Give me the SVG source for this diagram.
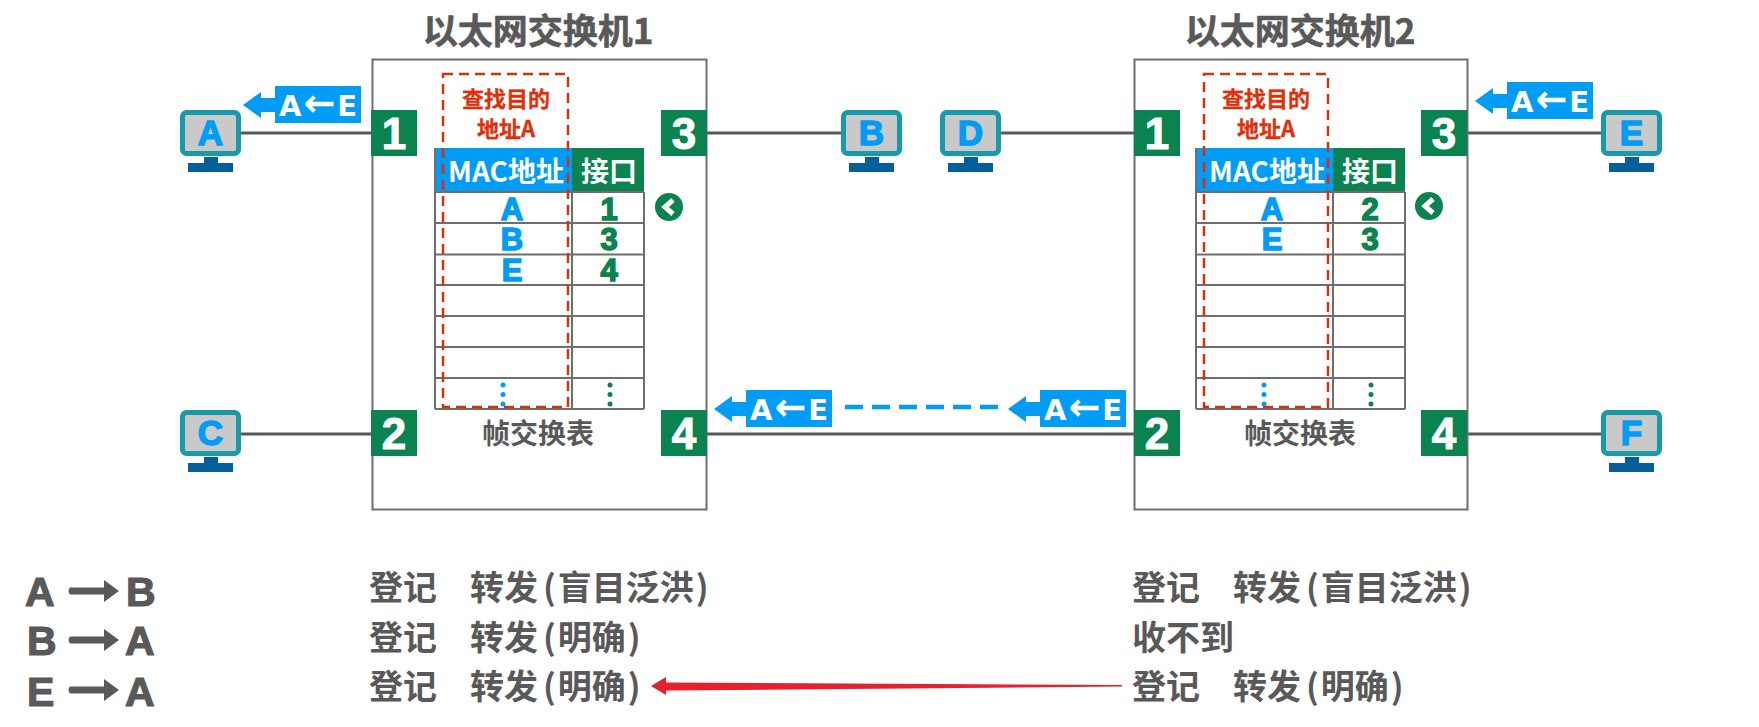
<svg xmlns="http://www.w3.org/2000/svg" width="1759" height="727" viewBox="0 0 1759 727">
<style>
text{font-family:"Noto Sans CJK SC","Liberation Sans",sans-serif;font-weight:700;text-anchor:middle}
.box{fill:#fff;stroke:#6e6e6e;stroke-width:2}
.wire{stroke:#595959;stroke-width:3;fill:none}
.port{fill:#0a8350}
.pt{fill:#fff;stroke:#fff;stroke-width:1;font:700 44px "Liberation Sans",sans-serif}
.title{fill:#595959;stroke:#595959;stroke-width:.6;font-size:35px}
.cap{fill:#595959;font-size:28px}
.red{fill:#e0300a;stroke:#e0300a;stroke-width:.3;font-size:22px}
.hb{fill:#009cf6}
.hg{fill:#0a8350}
.th{fill:#fff;font-size:28px}
.grid{stroke:#6e6e6e;stroke-width:2;fill:none}
.dash{fill:none;stroke:#d8300f;stroke-width:2.5;stroke-dasharray:10 6}
.cb{fill:#009cf6;stroke:#009cf6;stroke-width:1.500;font:700 31px "Liberation Sans",sans-serif}
.cg{fill:#0a8350;stroke:#0a8350;stroke-width:1.500;font:700 31px "Liberation Sans",sans-serif}
.mon{fill:#c9c9c9;stroke:#1a9aa8;stroke-width:5}
.stand{fill:#045f9a}
.pc{fill:#009cf6;stroke:#009cf6;stroke-width:1.500;font:700 35px "Liberation Sans",sans-serif}
.fr{fill:#fff;font:700 29px "DejaVu Sans",sans-serif}
.fa{font-size:38px}
.log{fill:#595959;font-size:34px;text-anchor:start}
.flow{fill:#595959;stroke:#595959;stroke-width:1.200;font:700 41px "Liberation Sans",sans-serif;text-anchor:start}
.farrow{fill:#595959}
</style>
<defs>
<g id="pc"><rect class="mon" x="2.500" y="2.500" width="56" height="41" rx="4"/><rect class="stand" x="24" y="47" width="14" height="6"/><rect class="stand" x="8" y="53" width="45" height="9"/></g>
<g id="frame"><path class="hb" d="M0 20 L18 7 V13 H32 V1 H118 V38 H32 V27 H18 V33Z"/></g>
<g id="chev"><circle class="hg" r="14"/><path d="M4 -7 L-4 0 L4 7" fill="none" stroke="#fff" stroke-width="5"/></g>
<g id="flowarrow"><path class="farrow" d="M0 -3.500 H34 V-11 L49 0 L34 11 V3.500 H0 Q-3 0 0 -3.500Z"/></g>
<g id="table"><rect x="0" y="0" width="137" height="44" class="hb"/><rect x="137" y="0" width="72" height="44" class="hg"/><path class="grid" d="M0 44H209M0 75H209M0 106.500H209M0 137H209M0 168H209M0 199H209M0 230H209M0 261H209M0 0V261M209 44V261M137 44V261"/></g>
<g id="dots-b"><circle class="hb" cx="0" cy="0" r="2.500"/><circle class="hb" cx="0" cy="9.500" r="2.500"/><circle class="hb" cx="0" cy="19" r="2.500"/></g>
<g id="dots-g"><circle class="hg" cx="0" cy="0" r="2.500"/><circle class="hg" cx="0" cy="9.500" r="2.500"/><circle class="hg" cx="0" cy="19" r="2.500"/></g>
</defs>
<rect width="1759" height="727" fill="#fff"/>
<g id="connectors">
<path class="wire" d="M241 133H372M707 133H841M1001 133H1134M1467 133H1601M241 434H372M707 434H1134M1467 434H1601"/>
<path d="M845 407H998" fill="none" stroke="#009cf6" stroke-width="4.500" stroke-dasharray="18 9"/>
<path d="M651 686 L666 677 V682.500 L1122 685 V686.500 L666 690.500 V695Z" fill="#e8202e"/>
</g>
<g id="switch1">
<rect class="box" x="372.500" y="59.500" width="334" height="450"/>
<text class="title" x="538" y="44">以太网交换机1</text>
<use href="#table" x="435" y="148"/>
<text class="th" x="506" y="182">MAC地址</text><text class="th" x="609" y="182">接口</text>
<text class="cb" x="512" y="220">A</text><text class="cb" x="512" y="250">B</text><text class="cb" x="512" y="281">E</text>
<text class="cg" x="609" y="220">1</text><text class="cg" x="609" y="250">3</text><text class="cg" x="609" y="281">4</text>
<use href="#dots-b" x="503" y="385"/><use href="#dots-g" x="610" y="385"/>
<rect class="dash" x="443" y="74" width="125" height="333"/>
<text class="red" x="506" y="107">查找目的</text><text class="red" x="506" y="137">地址A</text>
<use href="#chev" x="669" y="207"/>
<text class="cap" x="538" y="444">帧交换表</text>
</g>
<g id="switch2">
<rect class="box" x="1134.500" y="59.500" width="333" height="450"/>
<text class="title" x="1300" y="44">以太网交换机2</text>
<use href="#table" x="1196" y="148"/>
<text class="th" x="1267" y="182">MAC地址</text><text class="th" x="1370" y="182">接口</text>
<text class="cb" x="1272" y="220">A</text><text class="cb" x="1272" y="250">E</text>
<text class="cg" x="1370" y="220">2</text><text class="cg" x="1370" y="250">3</text>
<use href="#dots-b" x="1264" y="385"/><use href="#dots-g" x="1371" y="385"/>
<rect class="dash" x="1204" y="74" width="124" height="333"/>
<text class="red" x="1266" y="107">查找目的</text><text class="red" x="1266" y="137">地址A</text>
<use href="#chev" x="1429" y="206"/>
<text class="cap" x="1300" y="444">帧交换表</text>
</g>
<g id="ports">
<g id="s1p1"><rect class="port" x="371" y="110" width="46" height="46"/><text class="pt" x="394" y="149">1</text></g>
<g id="s1p3"><rect class="port" x="661" y="110" width="46" height="46"/><text class="pt" x="684" y="149">3</text></g>
<g id="s1p2"><rect class="port" x="371" y="410" width="46" height="46"/><text class="pt" x="394" y="449">2</text></g>
<g id="s1p4"><rect class="port" x="661" y="410" width="46" height="46"/><text class="pt" x="684" y="449">4</text></g>
<g id="s2p1"><rect class="port" x="1134" y="110" width="46" height="46"/><text class="pt" x="1157" y="149">1</text></g>
<g id="s2p3"><rect class="port" x="1421" y="110" width="46" height="46"/><text class="pt" x="1444" y="149">3</text></g>
<g id="s2p2"><rect class="port" x="1134" y="410" width="46" height="46"/><text class="pt" x="1157" y="449">2</text></g>
<g id="s2p4"><rect class="port" x="1421" y="410" width="46" height="46"/><text class="pt" x="1444" y="449">4</text></g>
</g>
<g id="pc-A"><use href="#pc" x="180" y="110"/><text class="pc" x="210.500" y="145">A</text></g>
<g id="pc-B"><use href="#pc" x="841" y="110"/><text class="pc" x="871.500" y="145">B</text></g>
<g id="pc-C"><use href="#pc" x="180" y="410"/><text class="pc" x="210.500" y="445">C</text></g>
<g id="pc-D"><use href="#pc" x="940" y="110"/><text class="pc" x="970.500" y="145">D</text></g>
<g id="pc-E"><use href="#pc" x="1601" y="110"/><text class="pc" x="1631.500" y="145">E</text></g>
<g id="pc-F"><use href="#pc" x="1601" y="410"/><text class="pc" x="1631.500" y="445">F</text></g>
<g id="frames">
<g id="frame1"><use href="#frame" x="243" y="85"/><text class="fr" x="318" y="116">A<tspan class="fa" dx="2">←</tspan><tspan dx="2">E</tspan></text></g>
<g id="frame2"><use href="#frame" x="1475" y="81"/><text class="fr" x="1550" y="112">A<tspan class="fa" dx="2">←</tspan><tspan dx="2">E</tspan></text></g>
<g id="frame3"><use href="#frame" x="714" y="389"/><text class="fr" x="789" y="420">A<tspan class="fa" dx="2">←</tspan><tspan dx="2">E</tspan></text></g>
<g id="frame4"><use href="#frame" x="1008" y="389"/><text class="fr" x="1083" y="420">A<tspan class="fa" dx="2">←</tspan><tspan dx="2">E</tspan></text></g>
</g>
<g id="log">
<text class="flow" x="25" y="606">A</text><use href="#flowarrow" x="70" y="591"/><text class="flow" x="126" y="606">B</text>
<text class="flow" x="27" y="655">B</text><use href="#flowarrow" x="70" y="640"/><text class="flow" x="125" y="655">A</text>
<text class="flow" x="27" y="706">E</text><use href="#flowarrow" x="70" y="690"/><text class="flow" x="125" y="706">A</text>
<text class="log" x="369" y="600">登记</text><text class="log" x="470" y="600">转发<tspan dx="5">(</tspan><tspan dx="2">盲目泛洪</tspan><tspan dx="2">)</tspan></text>
<text class="log" x="369" y="650">登记</text><text class="log" x="470" y="650">转发<tspan dx="5">(</tspan><tspan dx="2">明确</tspan><tspan dx="2">)</tspan></text>
<text class="log" x="369" y="699">登记</text><text class="log" x="470" y="699">转发<tspan dx="5">(</tspan><tspan dx="2">明确</tspan><tspan dx="2">)</tspan></text>
<text class="log" x="1132" y="600">登记</text><text class="log" x="1233" y="600">转发<tspan dx="5">(</tspan><tspan dx="2">盲目泛洪</tspan><tspan dx="2">)</tspan></text>
<text class="log" x="1132" y="650">收不到</text>
<text class="log" x="1132" y="699">登记</text><text class="log" x="1233" y="699">转发<tspan dx="5">(</tspan><tspan dx="2">明确</tspan><tspan dx="2">)</tspan></text>
</g>
</svg>
